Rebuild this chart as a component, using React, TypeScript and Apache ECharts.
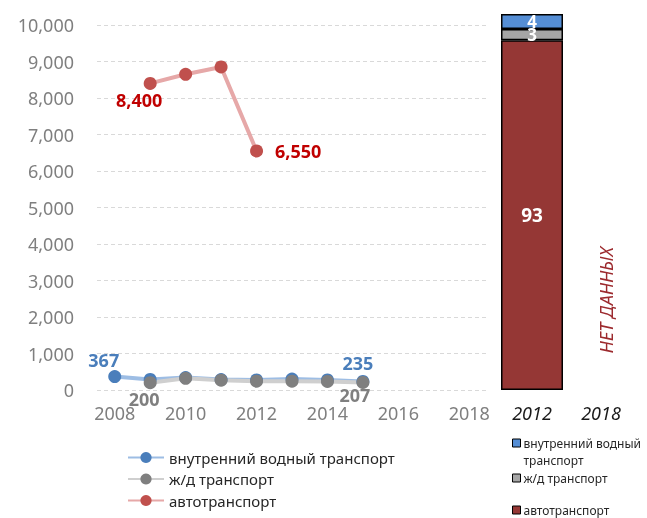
import React, { useEffect, useRef } from "react";
import * as echarts from "echarts";

const years = ["2008", "2009", "2010", "2011", "2012", "2013", "2014", "2015", "2016", "2017", "2018"];
const waterValues = [367, 290, 340, 285, 275, 300, 275, 235, null, null, null];
const railValues = [null, 200, 320, 270, 240, 240, 235, 207, null, null, null];
const autoValues = [null, 8400, 8650, 8850, 6550, null, null, null, null, null, null];

const shareCategories = ["2012", "2018"];
const shareAuto = [93, null];
const shareRail = [3, null];
const shareWater = [4, null];

const yTicks = { min: 0, max: 10000, interval: 1000 };

const NAME_WATER = "внутренний водный транспорт";
const NAME_RAIL = "ж/д транспорт";
const NAME_AUTO = "автотранспорт";
const NO_DATA = "НЕТ ДАННЫХ";

const FONT = '"Noto Sans", "DejaVu Sans", sans-serif';

export default function App() {
  const ref = useRef<HTMLDivElement>(null);

  useEffect(() => {
    if (!ref.current) return;
    const chart = echarts.init(ref.current, undefined, { renderer: "svg" });

    const lbl = (color: string, position: string, distance: number, offset: number[]) => ({
      show: true,
      position,
      distance,
      offset,
      color,
      fontWeight: "bold",
      fontSize: 18,
      fontFamily: FONT,
      formatter: (p: any) => echarts.format.addCommas(p.value),
    });

    const waterData = waterValues.map((v, i) => {
      if (i === 0) return { value: v, label: lbl("#4a7ebb", "top", 1, [-11, 0]) };
      if (i === 7) return { value: v, label: lbl("#4a7ebb", "top", 3, [-5, 0]) };
      return v;
    });
    const railData = railValues.map((v, i) => {
      if (i === 1) return { value: v, label: lbl("#7f7f7f", "bottom", 1, [-6, 0]) };
      if (i === 7) return { value: v, label: lbl("#7f7f7f", "bottom", 0, [-8, -3]) };
      return v;
    });
    const autoData = autoValues.map((v, i) => {
      if (i === 1) return { value: v, label: lbl("#c00000", "bottom", 1, [-11, 0]) };
      if (i === 4) return { value: v, label: lbl("#c00000", "right", 12, [0, 0]) };
      return v;
    });

    const lineSeries = (name: string, data: any[], lineColor: string, markColor: string) => ({
      type: "line",
      name,
      data,
      xAxisIndex: 0,
      yAxisIndex: 0,
      symbol: "circle",
      symbolSize: 13,
      lineStyle: { color: lineColor, width: 4 },
      itemStyle: { color: markColor },
      label: { show: false },
    });

    const barLabel = {
      show: true,
      position: "inside",
      color: "#fff",
      fontWeight: "bold",
      fontSize: 19,
      fontFamily: FONT,
    };
    const barSeries = (name: string, data: any[], color: string, fontSize: number) => ({
      type: "bar",
      name,
      data,
      stack: "share",
      xAxisIndex: 1,
      yAxisIndex: 1,
      barWidth: 62,
      itemStyle: { color, borderColor: "#000", borderWidth: 1.5 },
      label: { ...barLabel, fontSize },
    });

    const rightLegend = (name: string, color: string, top: number, text: string) => ({
      orient: "vertical",
      left: 512,
      top,
      padding: 0,
      icon: "rect",
      itemWidth: 8,
      itemHeight: 8,
      itemGap: 0,
      selectedMode: false,
      formatter: () => text,
      textStyle: { fontSize: 12, lineHeight: 17, color: "#262626", fontFamily: FONT, padding: [0, 0, 0, -2] },
      data: [{ name, itemStyle: { color, borderColor: "#000", borderWidth: 1 } }],
    });

    chart.setOption({
      animation: false,
      textStyle: { fontFamily: FONT },
      grid: [
        { left: 97, right: 160, top: 25, bottom: 128 },
        { left: 497.5, width: 138, top: 14, bottom: 128 },
      ],
      xAxis: [
        {
          type: "category",
          gridIndex: 0,
          data: years,
          boundaryGap: true,
          axisLine: { show: false },
          axisTick: { show: false },
          axisLabel: { interval: 1, color: "#7f7f7f", fontSize: 18, margin: 14, fontFamily: FONT },
        },
        {
          type: "category",
          gridIndex: 1,
          data: shareCategories,
          axisLine: { show: false },
          axisTick: { show: false },
          axisLabel: { color: "#1a1a1a", fontSize: 18, fontStyle: "italic", margin: 14, fontFamily: FONT },
        },
      ],
      yAxis: [
        {
          type: "value",
          gridIndex: 0,
          min: yTicks.min,
          max: yTicks.max,
          interval: yTicks.interval,
          axisLine: { show: false },
          axisTick: { show: false },
          axisLabel: {
            color: "#7f7f7f",
            fontSize: 18,
            margin: 23,
            fontFamily: FONT,
            formatter: (v: number) => echarts.format.addCommas(v),
          },
          splitLine: { lineStyle: { color: "#d9d9d9", type: [4, 3], width: 1 } },
        },
        { type: "value", gridIndex: 1, min: 0, max: 100, show: false },
      ],
      legend: [
        {
          orient: "vertical",
          left: 127,
          top: 450,
          padding: 0,
          itemWidth: 36,
          itemHeight: 14,
          itemGap: 6.5,
          selectedMode: false,
          textStyle: { fontSize: 15, color: "#262626", fontFamily: FONT },
          data: [NAME_WATER, NAME_RAIL, NAME_AUTO],
        },
        rightLegend(NAME_WATER, "#558ed5", 417.5, "\nвнутренний водный\nтранспорт"),
        rightLegend(NAME_RAIL, "#a6a6a6", 469.5, NAME_RAIL),
        rightLegend(NAME_AUTO, "#953735", 501.5, NAME_AUTO),
      ],
      graphic: [
        {
          type: "text",
          x: 606,
          y: 300,
          rotation: Math.PI / 2,
          style: {
            text: NO_DATA,
            fill: "#9c2a2e",
            fontSize: 18,
            fontStyle: "italic",
            fontFamily: FONT,
            align: "center",
            verticalAlign: "middle",
          },
        },
      ],
      series: [
        lineSeries(NAME_WATER, waterData, "#9dbde4", "#4a7ebb"),
        lineSeries(NAME_RAIL, railData, "#cfcfcf", "#7f7f7f"),
        lineSeries(NAME_AUTO, autoData, "#e6a8a8", "#c0504d"),
        barSeries(NAME_AUTO, shareAuto, "#953735", 19),
        barSeries(NAME_RAIL, shareRail, "#a6a6a6", 17),
        barSeries(NAME_WATER, shareWater, "#558ed5", 17),
      ],
    });

    return () => chart.dispose();
  }, []);

  return (
    <div
      ref={ref}
      style={{ position: "fixed", left: 0, top: 0, width: 647, height: 518 }}
    />
  );
}
